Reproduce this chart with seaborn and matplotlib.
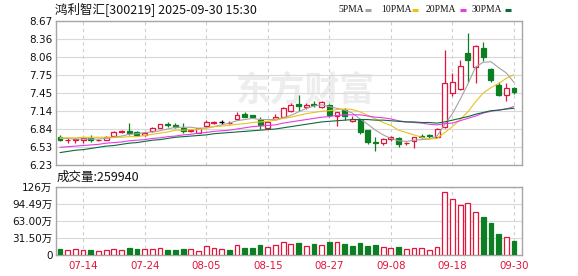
import numpy as np
import pandas as pd
import matplotlib
matplotlib.use("Agg")
import matplotlib.pyplot as plt
from matplotlib.lines import Line2D
import seaborn as sns

# ---------------- data ----------------
dates = ["07-09", "07-10", "07-11", "07-14", "07-15", "07-16", "07-17", "07-18", "07-21", "07-22",
         "07-23", "07-24", "07-25", "07-28", "07-29", "07-30", "07-31", "08-01", "08-04", "08-05",
         "08-06", "08-07", "08-08", "08-11", "08-12", "08-13", "08-14", "08-15", "08-18", "08-19",
         "08-20", "08-21", "08-22", "08-25", "08-26", "08-27", "08-28", "08-29", "09-01", "09-02",
         "09-03", "09-04", "09-05", "09-08", "09-09", "09-10", "09-11", "09-12", "09-15", "09-16",
         "09-17", "09-18", "09-19", "09-22", "09-23", "09-24", "09-25", "09-26", "09-29", "09-30"]

open_ = [6.71, 6.65, 6.66, 6.66, 6.68, 6.65, 6.66, 6.72, 6.79, 6.80,
         6.79, 6.73, 6.80, 6.86, 6.92, 6.90, 6.86, 6.80, 6.78, 6.89,
         6.95, 6.96, 6.94, 7.01, 7.10, 7.07, 7.00, 6.86, 7.01, 7.05,
         7.14, 7.27, 7.22, 7.26, 7.21, 7.25, 7.06, 7.16, 6.97, 6.99,
         6.82, 6.62, 6.60, 6.67, 6.69, 6.60, 6.64, 6.72, 6.73, 6.70,
         6.87, 7.45, 7.52, 8.12, 7.89, 8.21, 7.86, 7.58, 7.42, 7.53]
high = [6.74, 6.69, 6.68, 6.69, 6.74, 6.67, 6.72, 6.80, 6.82, 6.94,
        6.80, 6.79, 6.87, 6.93, 6.96, 6.94, 6.94, 6.84, 6.86, 6.99,
        6.98, 7.00, 6.97, 7.12, 7.13, 7.08, 7.04, 6.98, 7.10, 7.22,
        7.28, 7.42, 7.28, 7.32, 7.32, 7.26, 7.13, 7.19, 7.06, 7.00,
        6.83, 6.71, 6.68, 6.72, 6.71, 6.62, 6.71, 6.75, 6.75, 6.86,
        8.18, 7.79, 8.01, 8.47, 8.27, 8.31, 7.88, 7.64, 7.62, 7.55]
low = [6.64, 6.61, 6.60, 6.61, 6.62, 6.63, 6.65, 6.71, 6.77, 6.74,
       6.72, 6.72, 6.79, 6.85, 6.88, 6.85, 6.78, 6.79, 6.77, 6.88,
       6.93, 6.92, 6.93, 7.00, 7.04, 7.03, 6.84, 6.85, 7.00, 7.04,
       7.12, 7.15, 7.18, 7.22, 7.20, 7.05, 6.89, 7.00, 6.96, 6.76,
       6.58, 6.47, 6.57, 6.64, 6.53, 6.57, 6.52, 6.69, 6.69, 6.69,
       6.86, 7.40, 7.50, 7.64, 7.62, 8.00, 7.64, 7.40, 7.32, 7.44]
close = [6.66, 6.66, 6.67, 6.68, 6.66, 6.66, 6.71, 6.79, 6.80, 6.77,
         6.74, 6.78, 6.86, 6.92, 6.91, 6.87, 6.80, 6.83, 6.86, 6.96,
         6.96, 6.96, 6.95, 7.08, 7.05, 7.04, 6.90, 6.96, 7.05, 7.19,
         7.24, 7.23, 7.25, 7.24, 7.30, 7.08, 7.12, 7.06, 7.01, 6.79,
         6.62, 6.60, 6.67, 6.70, 6.59, 6.61, 6.70, 6.71, 6.72, 6.84,
         7.62, 7.64, 7.91, 8.01, 8.25, 8.06, 7.67, 7.42, 7.53, 7.46]
prev_close = 6.71  # close of the day before the first shown day

ma5 = [6.68, 6.68, 6.67, 6.67, 6.67, 6.67, 6.68, 6.70, 6.72, 6.75,
       6.76, 6.78, 6.79, 6.81, 6.84, 6.87, 6.87, 6.87, 6.85, 6.86,
       6.88, 6.91, 6.94, 6.98, 7.00, 7.02, 7.00, 7.00, 7.00, 7.03,
       7.07, 7.13, 7.19, 7.23, 7.25, 7.22, 7.19, 7.16, 7.11, 7.01,
       6.92, 6.82, 6.74, 6.68, 6.64, 6.63, 6.65, 6.66, 6.67, 6.72,
       6.92, 7.10, 7.34, 7.60, 7.89, 7.97, 7.98, 7.88, 7.79, 7.63]
ma10 = [6.69, 6.69, 6.69, 6.70, 6.70, 6.70, 6.70, 6.70, 6.70, 6.71,
        6.71, 6.73, 6.75, 6.77, 6.79, 6.82, 6.82, 6.83, 6.83, 6.85,
        6.88, 6.89, 6.90, 6.92, 6.93, 6.95, 6.96, 6.97, 6.99, 7.02,
        7.04, 7.07, 7.10, 7.12, 7.14, 7.15, 7.17, 7.18, 7.17, 7.13,
        7.07, 7.01, 6.95, 6.90, 6.82, 6.78, 6.74, 6.70, 6.67, 6.68,
        6.78, 6.88, 7.00, 7.13, 7.30, 7.45, 7.54, 7.61, 7.70, 7.76]
ma20 = [6.53, 6.54, 6.55, 6.56, 6.57, 6.58, 6.60, 6.61, 6.62, 6.64,
        6.65, 6.66, 6.68, 6.69, 6.71, 6.72, 6.74, 6.75, 6.77, 6.78,
        6.80, 6.81, 6.82, 6.84, 6.86, 6.88, 6.89, 6.90, 6.91, 6.94,
        6.96, 6.98, 7.00, 7.02, 7.04, 7.05, 7.07, 7.08, 7.08, 7.08,
        7.06, 7.04, 7.03, 7.01, 6.98, 6.96, 6.95, 6.94, 6.92, 6.91,
        6.93, 6.94, 6.98, 7.02, 7.06, 7.11, 7.14, 7.16, 7.18, 7.22]
ma30 = [6.44, 6.46, 6.48, 6.49, 6.51, 6.53, 6.55, 6.56, 6.58, 6.60,
        6.61, 6.63, 6.65, 6.66, 6.68, 6.70, 6.71, 6.72, 6.73, 6.74,
        6.76, 6.77, 6.78, 6.79, 6.80, 6.81, 6.82, 6.83, 6.84, 6.86,
        6.88, 6.90, 6.92, 6.94, 6.96, 6.97, 6.98, 6.99, 7.00, 7.00,
        7.00, 6.99, 6.99, 6.98, 6.97, 6.96, 6.96, 6.95, 6.95, 6.94,
        6.96, 6.99, 7.02, 7.05, 7.09, 7.12, 7.15, 7.16, 7.18, 7.19]

volume_wan = [11.0, 8.0, 10.4, 9.0, 9.0, 7.3, 9.0, 10.4, 9.0, 12.8,
              9.8, 11.0, 11.0, 12.8, 9.0, 9.0, 11.0, 10.4, 7.3, 15.3,
              12.2, 11.0, 9.0, 18.3, 12.8, 12.8, 18.3, 13.4, 18.3, 23.8,
              20.0, 22.6, 16.5, 19.0, 18.3, 24.4, 23.8, 20.0, 15.3, 21.4,
              16.5, 18.3, 14.0, 12.2, 14.0, 10.4, 12.2, 12.2, 8.6, 13.4,
              116.5, 104.0, 93.0, 96.5, 80.0, 69.0, 58.0, 38.5, 32.4, 25.994]

price_tick_labels = ["6.23", "6.53", "6.84", "7.14", "7.45", "7.75", "8.06", "8.36", "8.67"]
price_min, price_max = 6.23, 8.67
vol_tick_values = [0, 31.50, 63.00, 94.49, 126]
vol_tick_labels = ["0", "31.50万", "63.00万", "94.49万", "126万"]
date_tick_labels = ["07-14", "07-24", "08-05", "08-15", "08-27", "09-08", "09-18", "09-30"]
ma_names = ["5PMA", "10PMA", "20PMA", "30PMA"]
title_text = "鸿利智汇[300219] 2025-09-30 15:30"

# ---------------- style ----------------
RED = "#e4143c"
GREEN = "#0b7f22"
MA_COLORS = ["#a3a3a3", "#e8c21a", "#e63ce6", "#0d6b3a"]
SPINE = "#a6a6a6"
GRID = "#d9d9d9"

sns.set_theme(style="white")
plt.rcParams["font.family"] = ["DejaVu Sans", "Noto Sans CJK SC"]
plt.rcParams["axes.unicode_minus"] = False

W, H = 578, 276
fig = plt.figure(figsize=(W / 100, H / 100), dpi=100)


def rect(l, t, r, b):
    return [l / W, 1 - b / H, (r - l) / W, (b - t) / H]


ax = fig.add_axes(rect(56, 21, 522, 165))
axv = fig.add_axes(rect(56, 186.7, 522, 254.7))

n = len(dates)
idx = np.arange(n)
df = pd.DataFrame({"idx": idx, "date": dates, "open": open_, "high": high, "low": low,
                   "close": close, "ma5": ma5, "ma10": ma10, "ma20": ma20, "ma30": ma30,
                   "vol": volume_wan})
xlim = (-0.52, n - 1 + 1.04)
tick_pos = [dates.index(d) for d in date_tick_labels]

# ---------------- price panel ----------------
for a in (ax, axv):
    a.set_xlim(*xlim)
    for s in a.spines.values():
        s.set_color(SPINE)
        s.set_linewidth(1.0)
    a.set_xticks(tick_pos)
    a.tick_params(length=0, pad=2.5, labelsize=7.5, colors="#111111")
    a.set_axisbelow(True)
    a.xaxis.grid(True, color="#cfcfcf", linestyle=(0, (3, 3)), linewidth=0.8)
    a.yaxis.grid(True, color=GRID, linestyle="-", linewidth=0.8)

ax.set_ylim(price_min, price_max)
ax.set_yticks(np.linspace(price_min, price_max, len(price_tick_labels)))
ax.set_yticklabels(price_tick_labels)
ax.set_xticklabels([])

# watermark
ax.text(0.535, 0.52, "东方财富", transform=ax.transAxes, fontsize=25, fontweight="bold",
        family=["Noto Sans CJK SC"], color="#ededed", ha="center", va="center",
        style="italic", zorder=0.5)

body_w = 0.64
for r in df.itertuples():
    o, h, l, c = r.open, r.high, r.low, r.close
    if c > o:
        col, fill = RED, "white"
    elif c < o:
        col, fill = GREEN, GREEN
    else:
        col, fill = "black", "black"
    ax.vlines(r.idx, l, h, color=col, linewidth=0.9, zorder=3)
    if abs(c - o) < 0.006:
        ax.hlines((o + c) / 2, r.idx - body_w / 2, r.idx + body_w / 2, color=col,
                  linewidth=1.0, zorder=4)
    else:
        ax.bar(r.idx, abs(c - o), bottom=min(o, c), width=body_w, facecolor=fill,
               edgecolor=col, linewidth=0.9, zorder=4)

for name, colr in zip(["ma5", "ma10", "ma20", "ma30"], MA_COLORS):
    sns.lineplot(data=df, x="idx", y=name, ax=ax, color=colr, linewidth=0.8,
                 legend=False, zorder=5)
ax.set_xlabel("")
ax.set_ylabel("")
ax.set_xlim(*xlim)
ax.set_ylim(price_min, price_max)

# ---------------- volume panel ----------------
closes_prev = [prev_close] + close[:-1]
for r, pc in zip(df.itertuples(), closes_prev):
    up = r.close >= pc
    if up:
        axv.bar(r.idx, r.vol, width=0.62, facecolor="white", edgecolor=RED,
                linewidth=0.9, zorder=3)
    else:
        axv.bar(r.idx, r.vol, width=0.62, facecolor=GREEN, edgecolor=GREEN,
                linewidth=0.9, zorder=3)
axv.set_ylim(0, vol_tick_values[-1])
axv.set_yticks(vol_tick_values)
axv.set_yticklabels(vol_tick_labels)
axv.set_xticklabels(date_tick_labels)
axv.tick_params(axis="x", colors=RED, pad=4.5, labelsize=7.4)
axv.set_xlim(*xlim)

# ---------------- texts ----------------
fig.text(55 / W, 1 - 9 / H, title_text, fontsize=9, family=["Noto Sans CJK SC", "DejaVu Sans"],
         ha="left", va="center", color="#111111")

vol_shares = int(round(volume_wan[-1] * 10000))
fig.text(57 / W, 1 - 177.5 / H, f"成交量:{vol_shares}", fontsize=9,
         family=["Noto Sans CJK SC", "DejaVu Sans"], ha="left", va="center", color="#111111")

leg_text_x = [338, 381, 426, 472]
leg_dash_x = [365, 412, 460, 505]
for name, colr, tx, dx in zip(ma_names, MA_COLORS, leg_text_x, leg_dash_x):
    fig.text(tx / W, 1 - 9 / H, name, fontsize=6.9, family=["Liberation Serif"],
             ha="left", va="center", color="#111111")
    fig.add_artist(Line2D([dx / W, (dx + 6) / W], [1 - 10 / H, 1 - 10 / H],
                          color=colr, linewidth=2.2, solid_capstyle="butt"))

fig.savefig("out.png", dpi=100)
